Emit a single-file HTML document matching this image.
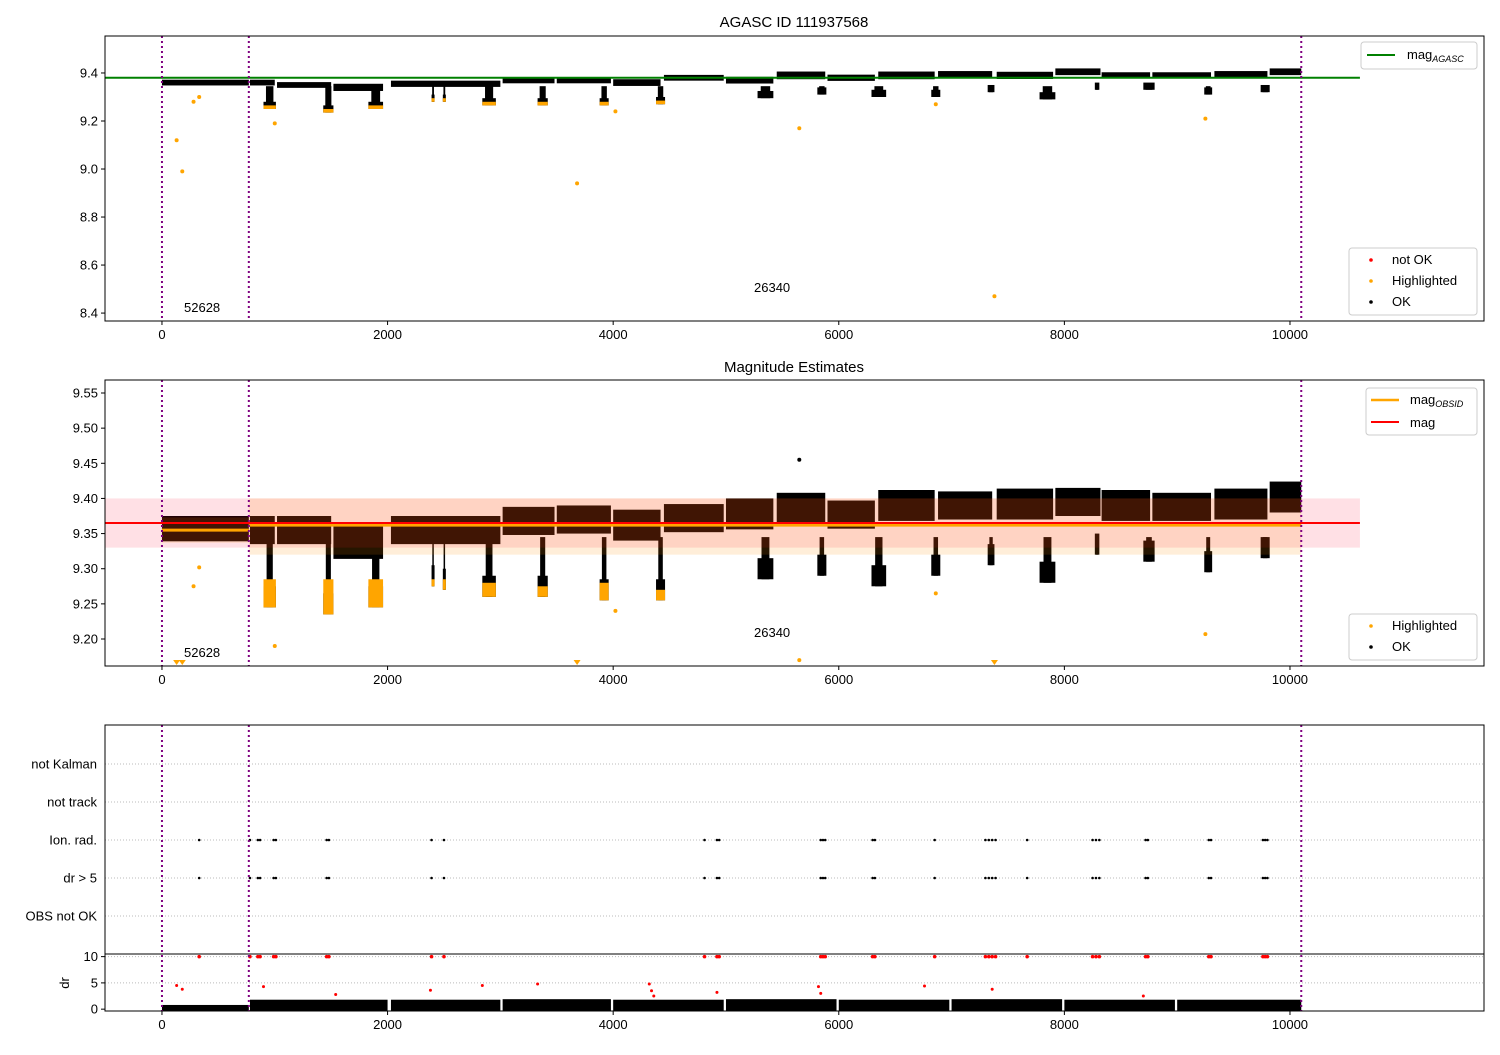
<!DOCTYPE html>
<html><head><meta charset="utf-8">
<style>
body{margin:0;background:#fff;}
svg text{font-family:"Liberation Sans","DejaVu Sans",sans-serif;}
</style></head>
<body>
<svg id="chart" width="1500" height="1050" xmlns="http://www.w3.org/2000/svg"></svg>
<script>
// ---- data ----
const segStart = [0, 780, 1020, 1520, 2030, 3020, 3500, 4000, 4450, 5000, 5450, 5900, 6350, 6880, 7400, 7920, 8330, 8780, 9330, 9820];
const segEnd   = [770, 1000, 1500, 1960, 3000, 3480, 3980, 4420, 4980, 5420, 5880, 6320, 6850, 7360, 7900, 8320, 8760, 9300, 9800, 10100];
const segMag2  = [9.357, 9.355, 9.355, 9.338, 9.355, 9.368, 9.370, 9.362, 9.372, 9.378, 9.386, 9.377, 9.390, 9.390, 9.392, 9.395, 9.390, 9.388, 9.392, 9.402];
const segSpread2 = [0.018, 0.02, 0.02, 0.024, 0.02, 0.02, 0.02, 0.022, 0.02, 0.022, 0.022, 0.02, 0.022, 0.02, 0.022, 0.02, 0.022, 0.02, 0.022, 0.022];
const segMag1  = [9.36, 9.36, 9.35, 9.34, 9.355, 9.37, 9.37, 9.36, 9.38, 9.37, 9.39, 9.38, 9.39, 9.395, 9.39, 9.405, 9.39, 9.39, 9.395, 9.405];
const segSpread1 = [0.012, 0.012, 0.012, 0.015, 0.013, 0.013, 0.013, 0.014, 0.012, 0.014, 0.016, 0.013, 0.016, 0.013, 0.015, 0.014, 0.013, 0.013, 0.013, 0.014];

const dipStart = [900, 1430, 1830, 2390, 2490, 2840, 3330, 3880, 4380, 5280, 5810, 6290, 6820, 7320, 7780, 8270, 8700, 9240, 9740];
const dipEnd   = [1010, 1520, 1960, 2410, 2510, 2960, 3420, 3960, 4460, 5420, 5890, 6420, 6900, 7380, 7920, 8310, 8800, 9310, 9820];
const dipMin2  = [9.245, 9.235, 9.245, 9.275, 9.27, 9.26, 9.26, 9.255, 9.255, 9.285, 9.29, 9.275, 9.29, 9.305, 9.28, 9.32, 9.31, 9.295, 9.315];
const dipMin1  = [9.25, 9.235, 9.25, 9.28, 9.28, 9.265, 9.265, 9.265, 9.27, 9.295, 9.31, 9.30, 9.30, 9.32, 9.29, 9.33, 9.33, 9.31, 9.32];
const dipHl    = [9.285, 9.285, 9.285, 9.285, 9.285, 9.28, 9.275, 9.28, 9.27, 0, 0, 0, 0, 0, 0, 0, 0, 0, 0];

const out1X = [130, 180, 280, 330, 1000, 3680, 4020, 5650, 6860, 7380, 9250];
const out1Y = [9.12, 8.99, 9.28, 9.30, 9.19, 8.94, 9.24, 9.17, 9.27, 8.47, 9.21];
const out2X = [280, 330, 1000, 4020, 5650, 6860, 9250];
const out2Y = [9.275, 9.302, 9.19, 9.24, 9.17, 9.265, 9.207];
const tri2X = [130, 180, 3680, 7380];
const hi2X = [5650]; const hi2Y = [9.455];

const flagX = [330, 780, 850, 870, 990, 1010, 1460, 1480, 2390, 2500, 4810, 4920, 4940, 5840, 5860, 5880, 6300, 6320, 6850, 7300, 7330, 7360, 7390, 7670, 8250, 8280, 8310, 8720, 8740, 9280, 9300, 9760, 9780, 9800];
const drRedX = [130, 180, 900, 1540, 2380, 2840, 3330, 4320, 4340, 4360, 4920, 5820, 5840, 6760, 7360, 8700];
const drRedY = [4.5, 3.8, 4.3, 2.8, 3.6, 4.5, 4.8, 4.8, 3.5, 2.5, 3.2, 4.3, 3.0, 4.4, 3.8, 2.5];
const drSegStart = [0, 780, 2030, 3020, 4000, 5000, 6000, 7000, 8000, 9000];
const drSegEnd   = [770, 2000, 3000, 3980, 4980, 5980, 6980, 7980, 8980, 10100];
const drSegMax   = [0.8, 1.8, 1.8, 1.9, 1.8, 1.9, 1.8, 1.9, 1.8, 1.8];

const xTicks = [0, 2000, 4000, 6000, 8000, 10000];
const y1Ticks = [8.4, 8.6, 8.8, 9.0, 9.2, 9.4];
const y2Ticks = [9.20, 9.25, 9.30, 9.35, 9.40, 9.45, 9.50, 9.55];
const cats = ["not Kalman", "not track", "Ion. rad.", "dr > 5", "OBS not OK"];
const drTicks = [0, 5, 10];
const vlines = [0, 770, 10100];
const magAgasc = 9.38, magAll = 9.365, bandLo = 9.33, bandHi = 9.40, obsLo = 9.32, obsHi = 9.40;

// ---- helpers ----
const svg = document.getElementById('chart');
const NS = 'http://www.w3.org/2000/svg';
function mk(tag, attrs, parent) { const e = document.createElementNS(NS, tag); for (const k in attrs) e.setAttribute(k, attrs[k]); (parent || svg).appendChild(e); return e; }
const X0 = 105, X1 = 1484, XMIN = -505, XMAX = 11720;
const sx = v => X0 + (v - XMIN) / (XMAX - XMIN) * (X1 - X0);
function yScale(top, bot, vmax, vmin) { return v => top + (vmax - v) / (vmax - vmin) * (bot - top); }
const y1 = yScale(36, 321, 9.554, 8.367);
const y2 = yScale(380, 666, 9.5685, 9.1616);
const catY = [764, 802, 840, 878, 916];
const yd = yScale(954, 1011, 10.5, -0.35);

function clipRect(id, top, bot) { const c = mk('clipPath', { id: id }); mk('rect', { x: X0, y: top, width: X1 - X0, height: bot - top }, c); }
clipRect('c1', 36, 321); clipRect('c2', 380, 666); clipRect('c3', 725, 1011);

function xAxis(bot, name) {
  const g = mk('g', {});
  
  
  xTicks.forEach(t => {
    mk('line', { x1: sx(t), x2: sx(t), y1: bot, y2: bot + 4, stroke: '#000' }, g);
    const tx = mk('text', { x: sx(t), y: bot + 18, 'font-size': 13, 'text-anchor': 'middle' }, g); tx.textContent = t;
  });
}
function yAxis(ticks, ys, name, dec) {
  const g = mk('g', {});
  
  
  ticks.forEach(t => {
    mk('line', { x1: X0 - 4, x2: X0, y1: ys(t), y2: ys(t), stroke: '#000' }, g);
    const tx = mk('text', { x: X0 - 7, y: ys(t) + 4.5, 'font-size': 13, 'text-anchor': 'end' }, g); tx.textContent = t.toFixed(dec);
  });
}
function vLines(top, bot) {
  vlines.forEach(v => {
    const l = mk('line', { x1: sx(v), x2: sx(v), y1: top, y2: bot, stroke: '#800080', 'stroke-width': 2, 'stroke-dasharray': '2,3' });
    
    
  });
}
function frame(top, bot, name) {
  const r = mk('rect', { x: X0, y: top, width: X1 - X0, height: bot - top, fill: 'none', stroke: '#000', 'stroke-width': 1 });
  
  
}
function text(x, y, s, size, anchor, name) {
  const t = mk('text', { x: x, y: y, 'font-size': size, 'text-anchor': anchor || 'start' }); t.textContent = s;
  
  
  return t;
}

// ---- panel 1 ----
const g1 = mk('g', { 'clip-path': 'url(#c1)' });


segStart.forEach((s, i) => {
  const r = mk('rect', { x: sx(s), y: y1(segMag1[i] + segSpread1[i]), width: sx(segEnd[i]) - sx(s), height: y1(segMag1[i] - segSpread1[i]) - y1(segMag1[i] + segSpread1[i]), fill: '#000' }, g1);
  
  
});
dipStart.forEach((s, i) => {
  const top = 9.345, bot = dipMin1[i];
  const w = Math.max(3, sx(dipEnd[i]) - sx(s));
  const r = mk('rect', { x: sx(s) + w * 0.2, y: y1(top), width: w * 0.6, height: y1(bot) - y1(top), fill: '#000' }, g1);
  
  
  const r2 = mk('rect', { x: sx(s), y: y1(bot + 0.03), width: w, height: y1(bot) - y1(bot + 0.03), fill: '#000' }, g1);
  
  
  if (dipHl[i] > 0) {
    const h = mk('rect', { x: sx(s), y: y1(bot + 0.015), width: w, height: y1(bot) - y1(bot + 0.015), fill: 'orange' }, g1);
    
    
  }
});
out1X.forEach((x, i) => {
  const c = mk('circle', { cx: sx(x), cy: y1(out1Y[i]), r: 2, fill: 'orange' }, g1);
  
  
});
const ga = mk('line', { x1: X0, x2: sx(10620), y1: y1(magAgasc), y2: y1(magAgasc), stroke: 'green', 'stroke-width': 2 });


vLines(36, 321);
frame(36, 321, 'agasc-axes');
xAxis(321, 'x-axis-1'); yAxis(y1Ticks, y1, 'y-axis-1', 1);
text(794, 27, 'AGASC ID 111937568', 15, 'middle', 'chart-title');
text(184, 312, '52628', 13, 'start', 'obs-label-52628');
text(754, 292, '26340', 13, 'start', 'obs-label-26340');

// ---- panel 2 ----
const g2 = mk('g', { 'clip-path': 'url(#c2)' });


segStart.forEach((s, i) => {
  const r = mk('rect', { x: sx(s), y: y2(segMag2[i] + segSpread2[i]), width: sx(segEnd[i]) - sx(s), height: y2(segMag2[i] - segSpread2[i]) - y2(segMag2[i] + segSpread2[i]), fill: '#000' }, g2);
  
  
});
dipStart.forEach((s, i) => {
  const top = 9.345, bot = dipMin2[i];
  const w = Math.max(3, sx(dipEnd[i]) - sx(s));
  const r = mk('rect', { x: sx(s) + w * 0.25, y: y2(top), width: w * 0.5, height: y2(bot) - y2(top), fill: '#000' }, g2);
  
  
  const r2 = mk('rect', { x: sx(s), y: y2(bot + 0.03), width: w, height: y2(bot) - y2(bot + 0.03), fill: '#000' }, g2);
  
  
  if (dipHl[i] > 0) {
    const h = mk('rect', { x: sx(s), y: y2(dipHl[i]), width: w, height: y2(bot) - y2(dipHl[i]), fill: 'orange' }, g2);
    
    
  }
});
out2X.forEach((x, i) => {
  const c = mk('circle', { cx: sx(x), cy: y2(out2Y[i]), r: 2, fill: 'orange' }, g2);
  
  
});
tri2X.forEach(x => {
  const p = mk('path', { d: `M${sx(x) - 3.5},660 L${sx(x) + 3.5},660 L${sx(x)},665 Z`, fill: 'orange' }, g2);
  
  
});
hi2X.forEach((x, i) => {
  const c = mk('circle', { cx: sx(x), cy: y2(hi2Y[i]), r: 2, fill: '#000' }, g2);
  
  
});
// bands
const pb = mk('rect', { x: X0, y: y2(bandHi), width: sx(10620) - X0, height: y2(bandLo) - y2(bandHi), fill: 'rgba(255,0,40,0.12)' });


const ob = mk('rect', { x: sx(770), y: y2(obsHi), width: sx(10100) - sx(770), height: y2(obsLo) - y2(obsHi), fill: 'rgba(255,140,0,0.15)' });


const ob0 = mk('rect', { x: sx(0), y: y2(9.373), width: sx(770) - sx(0), height: y2(9.337) - y2(9.373), fill: 'rgba(255,140,0,0.15)' });


const oline = mk('line', { x1: sx(0), x2: sx(770), y1: y2(9.355), y2: y2(9.355), stroke: 'orange', 'stroke-width': 3 });


const oline2 = mk('line', { x1: sx(770), x2: sx(10100), y1: y2(9.362), y2: y2(9.362), stroke: 'orange', 'stroke-width': 3 });


const rl = mk('line', { x1: X0, x2: sx(10620), y1: y2(magAll), y2: y2(magAll), stroke: 'red', 'stroke-width': 2 });


vLines(380, 666);
frame(380, 666, 'mag-estimates-axes');
xAxis(666, 'x-axis-2'); yAxis(y2Ticks, y2, 'y-axis-2', 2);
text(794, 372, 'Magnitude Estimates', 15, 'middle', 'panel-title');
text(184, 657, '52628', 13, 'start', 'obs-label-52628');
text(754, 637, '26340', 13, 'start', 'obs-label-26340');

// ---- panel 3 ----
const g3 = mk('g', { 'clip-path': 'url(#c3)' });


catY.forEach((y, i) => {
  const l = mk('line', { x1: X0, x2: X1, y1: y, y2: y, stroke: '#bbb', 'stroke-dasharray': '1,2' }, g3);
  
  
  const t = mk('text', { x: X0 - 8, y: y + 4.5, 'font-size': 13, 'text-anchor': 'end' }); t.textContent = cats[i];
  
  
});
[5, 10].forEach(v => { mk('line', { x1: X0, x2: X1, y1: yd(v), y2: yd(v), stroke: '#bbb', 'stroke-dasharray': '1,2' }, g3); });
flagX.forEach(x => {
  [2, 3].forEach(ci => {
    const c = mk('circle', { cx: sx(x), cy: catY[ci], r: 1.3, fill: '#000' }, g3);
    
    
  });
  const r = mk('circle', { cx: sx(x), cy: yd(10), r: 1.8, fill: 'red' }, g3);
  
  
});
drSegStart.forEach((s, i) => {
  const r = mk('rect', { x: sx(s), y: yd(drSegMax[i]), width: sx(drSegEnd[i]) - sx(s), height: yd(0) - yd(drSegMax[i]) + 2, fill: '#000' }, g3);
  
  
});
drRedX.forEach((x, i) => {
  const c = mk('circle', { cx: sx(x), cy: yd(drRedY[i]), r: 1.5, fill: 'red' }, g3);
  
  
});
mk('line', { x1: X0, x2: X1, y1: 954, y2: 954, stroke: '#000' });
drTicks.forEach(t => {
  mk('line', { x1: X0 - 4, x2: X0, y1: yd(t), y2: yd(t), stroke: '#000' });
  const tx = mk('text', { x: X0 - 7, y: yd(t) + 4.5, 'font-size': 13, 'text-anchor': 'end' }); tx.textContent = t;
  
  
});
const drl = mk('text', { x: 0, y: 0, 'font-size': 13, 'text-anchor': 'middle', transform: 'translate(69,983) rotate(-90)' }); drl.textContent = 'dr';


vLines(725, 1011);
frame(725, 1011, 'flags-axes');
xAxis(1011, 'x-axis-3');

// ---- legends ----
function legendBox(x, y, w, h, name) {
  const r = mk('rect', { x: x, y: y, width: w, height: h, rx: 3, fill: 'rgba(255,255,255,0.85)', stroke: '#ccc' });
  
  
}
legendBox(1361, 42, 116, 27, 'legend-agasc');
mk('line', { x1: 1367, x2: 1395, y1: 55, y2: 55, stroke: 'green', 'stroke-width': 2 });
const la = text(1407, 59, 'mag', 13, 'start', 'legend-entry-mag-agasc');
const ls = mk('tspan', { 'font-size': 9, 'font-style': 'italic', dy: 3 }, la); ls.textContent = 'AGASC';

function scatterLegend(x, y, items, name) {
  legendBox(x, y, 128, items.length * 21 + 4, name);
  items.forEach((it, i) => {
    mk('circle', { cx: x + 22, cy: y + 12 + i * 21, r: 1.8, fill: it[1] });
    text(x + 43, y + 16 + i * 21, it[0], 13, 'start', 'legend-entry');
  });
}
scatterLegend(1349, 248, [['not OK', 'red'], ['Highlighted', 'orange'], ['OK', '#000']], 'legend-status-1');
scatterLegend(1349, 614, [['Highlighted', 'orange'], ['OK', '#000']], 'legend-status-2');

legendBox(1366, 388, 111, 47, 'legend-mag');
mk('line', { x1: 1371, x2: 1399, y1: 400, y2: 400, stroke: 'orange', 'stroke-width': 2.5 });
const lo = text(1410, 404, 'mag', 13, 'start', 'legend-entry-mag-obsid');
const lo2 = mk('tspan', { 'font-size': 9, 'font-style': 'italic', dy: 3 }, lo); lo2.textContent = 'OBSID';
mk('line', { x1: 1371, x2: 1399, y1: 422, y2: 422, stroke: 'red', 'stroke-width': 2 });
text(1410, 427, 'mag', 13, 'start', 'legend-entry-mag');
</script>
</body></html>
